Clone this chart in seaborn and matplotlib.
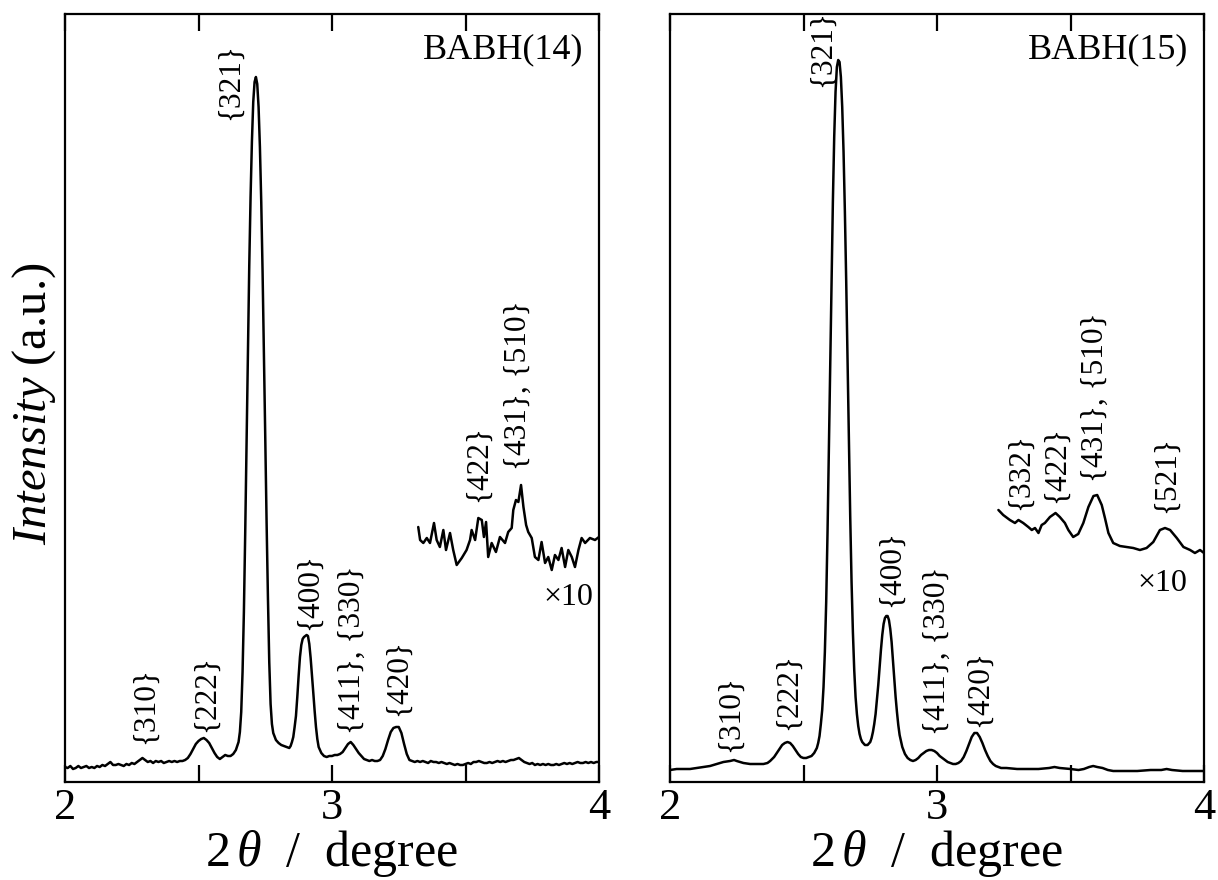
import numpy as np
import pandas as pd
import matplotlib
matplotlib.use("Agg")
import matplotlib.pyplot as plt
import seaborn as sns

# ---------------- data ----------------
# BABH(14) main pattern
tt14 = [2.000, 2.010, 2.020, 2.030, 2.040, 2.050, 2.060, 2.070, 2.080, 2.090,
        2.100, 2.110, 2.120, 2.130, 2.140, 2.150, 2.160, 2.170, 2.180, 2.190,
        2.200, 2.210, 2.220, 2.230, 2.240, 2.250, 2.260, 2.270, 2.280, 2.290,
        2.300, 2.310, 2.320, 2.330, 2.340, 2.350, 2.360, 2.370, 2.380, 2.390,
        2.400, 2.410, 2.420, 2.430, 2.440, 2.450, 2.460, 2.470, 2.480, 2.490,
        2.500, 2.510, 2.520, 2.530, 2.540, 2.550, 2.560, 2.570, 2.580, 2.590,
        2.600, 2.610, 2.620, 2.630, 2.640, 2.650, 2.655, 2.660, 2.665, 2.670,
        2.675, 2.680, 2.685, 2.690, 2.695, 2.700, 2.705, 2.710, 2.715, 2.720,
        2.725, 2.730, 2.735, 2.740, 2.745, 2.750, 2.755, 2.760, 2.765, 2.770,
        2.775, 2.780, 2.790, 2.800, 2.810, 2.820, 2.830, 2.840, 2.845, 2.850,
        2.855, 2.860, 2.865, 2.870, 2.875, 2.880, 2.885, 2.890, 2.895, 2.900,
        2.905, 2.910, 2.915, 2.920, 2.925, 2.930, 2.935, 2.940, 2.945, 2.950,
        2.960, 2.970, 2.980, 2.990, 3.000, 3.010, 3.020, 3.030, 3.040, 3.050,
        3.060, 3.070, 3.080, 3.090, 3.100, 3.110, 3.120, 3.130, 3.140, 3.150,
        3.160, 3.170, 3.180, 3.190, 3.200, 3.210, 3.220, 3.230, 3.240, 3.250,
        3.260, 3.270, 3.280, 3.290, 3.300, 3.310, 3.320, 3.330, 3.340, 3.350,
        3.360, 3.370, 3.380, 3.390, 3.400, 3.410, 3.420, 3.430, 3.440, 3.450,
        3.460, 3.470, 3.480, 3.490, 3.500, 3.510, 3.520, 3.530, 3.540, 3.550,
        3.560, 3.570, 3.580, 3.590, 3.600, 3.610, 3.620, 3.630, 3.640, 3.650,
        3.660, 3.670, 3.680, 3.690, 3.700, 3.710, 3.720, 3.730, 3.740, 3.750,
        3.760, 3.770, 3.780, 3.790, 3.800, 3.810, 3.820, 3.830, 3.840, 3.850,
        3.860, 3.870, 3.880, 3.890, 3.900, 3.910, 3.920, 3.930, 3.940, 3.950,
        3.960, 3.970, 3.980, 3.990, 4.000]
int14 = [15, 14, 16, 13, 14, 16, 14, 15, 16, 14,
         15, 14, 16, 15, 17, 16, 18, 20, 17, 17,
         18, 17, 16, 18, 17, 19, 18, 20, 22, 24,
         22, 20, 21, 19, 21, 20, 21, 19, 20, 21,
         20, 21, 20, 21, 21, 22, 24, 28, 33, 38,
         41, 43, 44, 42, 39, 34, 29, 25, 23, 25,
         27, 26, 26, 28, 32, 40, 50, 70, 110, 170,
         250, 340, 430, 515, 585, 640, 680, 700, 705, 698,
         675, 635, 580, 510, 430, 345, 260, 185, 120, 78,
         58, 49, 42, 39, 37, 36, 35, 34, 36, 40,
         45, 55, 66, 85, 106, 125, 137, 143, 145, 146,
         147, 146, 138, 124, 107, 89, 71, 55, 43, 35,
         29, 26, 25, 26, 26, 27, 27, 28, 30, 34,
         38, 40, 37, 33, 29, 26, 23, 22, 21, 22,
         21, 21, 22, 26, 33, 42, 50, 54, 55, 55,
         49, 38, 28, 22, 21, 20, 21, 20, 21, 20,
         19, 21, 20, 20, 19, 20, 19, 18, 19, 18,
         17, 18, 17, 17, 18, 19, 18, 20, 20, 21,
         20, 19, 19, 20, 19, 20, 21, 20, 21, 20,
         21, 22, 22, 23, 24, 22, 20, 19, 18, 19,
         17, 18, 17, 18, 17, 18, 17, 17, 18, 17,
         18, 19, 18, 19, 18, 19, 20, 19, 19, 20,
         19, 20, 19, 20, 20]

# BABH(14) x10 magnified part
tt14_x10 = [3.323, 3.330, 3.342, 3.355, 3.367, 3.382, 3.392, 3.404, 3.417, 3.427,
            3.442, 3.454, 3.467, 3.486, 3.504, 3.517, 3.523, 3.536, 3.548, 3.561,
            3.569, 3.577, 3.585, 3.598, 3.614, 3.629, 3.648, 3.660, 3.673, 3.679,
            3.689, 3.698, 3.708, 3.717, 3.727, 3.735, 3.748, 3.760, 3.773, 3.785,
            3.798, 3.810, 3.823, 3.835, 3.848, 3.860, 3.873, 3.885, 3.898, 3.910,
            3.923, 3.935, 3.948, 3.966, 3.985, 4.000]
int14_x10 = [255, 242, 239, 244, 239, 259, 242, 235, 252, 232,
             249, 232, 217, 224, 232, 242, 252, 242, 264, 262,
             245, 260, 225, 239, 230, 245, 239, 250, 254, 272,
             282, 280, 297, 275, 257, 250, 244, 225, 222, 240,
             219, 225, 212, 227, 222, 234, 215, 232, 225, 215,
             232, 244, 239, 244, 242, 245]

# BABH(15) main pattern
tt15 = [2.000, 2.025, 2.050, 2.075, 2.100, 2.125, 2.150, 2.175, 2.200, 2.225,
        2.240, 2.250, 2.275, 2.300, 2.325, 2.350, 2.365, 2.375, 2.390, 2.400,
        2.410, 2.420, 2.430, 2.440, 2.450, 2.460, 2.470, 2.480, 2.490, 2.500,
        2.510, 2.520, 2.530, 2.540, 2.550, 2.555, 2.560, 2.565, 2.570, 2.575,
        2.580, 2.585, 2.590, 2.595, 2.600, 2.605, 2.610, 2.615, 2.620, 2.625,
        2.630, 2.635, 2.640, 2.645, 2.650, 2.655, 2.660, 2.665, 2.670, 2.675,
        2.680, 2.685, 2.690, 2.695, 2.700, 2.705, 2.710, 2.715, 2.720, 2.730,
        2.740, 2.750, 2.755, 2.760, 2.765, 2.770, 2.775, 2.780, 2.785, 2.790,
        2.795, 2.800, 2.805, 2.810, 2.815, 2.820, 2.825, 2.830, 2.835, 2.840,
        2.845, 2.850, 2.855, 2.860, 2.870, 2.880, 2.890, 2.900, 2.910, 2.920,
        2.930, 2.940, 2.950, 2.960, 2.970, 2.980, 2.990, 3.000, 3.010, 3.020,
        3.030, 3.040, 3.050, 3.060, 3.070, 3.080, 3.090, 3.100, 3.110, 3.120,
        3.130, 3.140, 3.150, 3.160, 3.170, 3.180, 3.190, 3.200, 3.210, 3.220,
        3.240, 3.260, 3.300, 3.340, 3.380, 3.420, 3.440, 3.460, 3.500, 3.530,
        3.550, 3.570, 3.585, 3.600, 3.620, 3.640, 3.660, 3.700, 3.750, 3.800,
        3.840, 3.860, 3.880, 3.920, 3.960, 4.000]
int15 = [12, 13, 13, 13, 14, 15, 16, 18, 20, 21,
         22, 21, 19, 18, 18, 18, 19, 21, 25, 29,
         33, 37, 39, 40, 39, 36, 32, 28, 25, 24,
         24, 25, 26, 29, 34, 39, 46, 58, 72, 95,
         130, 180, 250, 330, 415, 500, 580, 645, 690, 715,
         722, 720, 705, 675, 630, 570, 500, 420, 340, 265,
         200, 150, 112, 85, 68, 56, 48, 43, 40, 37,
         37, 40, 44, 50, 58, 68, 82, 97, 115, 132,
         147, 158, 164, 166, 166, 162, 153, 140, 122, 103,
         85, 70, 57, 47, 35, 28, 24, 22, 21, 22,
         24, 27, 29, 31, 32, 32, 31, 29, 26, 24,
         22, 20, 19, 18, 18, 19, 21, 25, 31, 38,
         45, 49, 49, 45, 39, 32, 26, 21, 18, 16,
         14, 14, 13, 13, 13, 14, 15, 14, 13, 12,
         13, 15, 16, 15, 14, 12, 11, 11, 11, 12,
         12, 13, 12, 11, 11, 11]

# BABH(15) x10 magnified part
tt15_x10 = [3.230, 3.248, 3.273, 3.292, 3.305, 3.323, 3.342, 3.355, 3.367, 3.380,
            3.392, 3.404, 3.423, 3.444, 3.460, 3.479, 3.492, 3.510, 3.529, 3.548,
            3.567, 3.586, 3.600, 3.617, 3.629, 3.642, 3.660, 3.685, 3.710, 3.735,
            3.760, 3.785, 3.810, 3.835, 3.854, 3.873, 3.898, 3.923, 3.948, 3.966,
            3.985, 4.000]
int15_x10 = [272, 267, 262, 259, 262, 259, 255, 252, 254, 249,
             257, 259, 265, 269, 265, 259, 252, 245, 248, 259,
             275, 286, 287, 277, 264, 249, 239, 236, 235, 234,
             232, 234, 240, 252, 254, 252, 244, 235, 232, 229,
             232, 229]

# peak labels
labels14 = ["{310}", "{222}", "{321}", "{400}", "{411}, {330}", "{420}",
            "{422}", "{431}, {510}"]
labels15 = ["{310}", "{222}", "{321}", "{400}", "{411}, {330}", "{420}",
            "{332}", "{422}", "{431}, {510}", "{521}"]
sample_names = ["BABH(14)", "BABH(15)"]
xticks = [2, 2.5, 3, 3.5, 4]
xticklabels = ["2", "", "3", "", "4"]

# ---------------- annotation anchors (layout) ----------------
lab14_x = [2.300, 2.528, 2.618, 2.914, 3.075, 3.250, 3.547, 3.697]
lab14_y = [38, 50, 662, 152, 48, 66, 280, 312]
lab15_x = [2.228, 2.445, 2.570, 2.830, 3.000, 3.160, 3.311, 3.449, 3.592, 3.861]
lab15_y = [30, 52, 695, 175, 47, 55, 272, 279, 300, 269]

# ---------------- style ----------------
sns.set_theme(style="ticks")
plt.rcParams["font.family"] = ["Liberation Serif", "DejaVu Serif"]
plt.rcParams["mathtext.fontset"] = "custom"
plt.rcParams["mathtext.rm"] = "Liberation Serif"
plt.rcParams["mathtext.it"] = "Liberation Serif:italic"
plt.rcParams["mathtext.bf"] = "Liberation Serif:bold"
plt.rcParams["axes.linewidth"] = 1.6

fig = plt.figure(figsize=(12.18, 8.8), dpi=100)
W, H = 1218, 880
ax1 = fig.add_axes([65 / W, 1 - 782 / H, 534 / W, 768 / H])
ax2 = fig.add_axes([670 / W, 1 - 782 / H, 534 / W, 768 / H])

panels = [
    (ax1, tt14, int14, tt14_x10, int14_x10, labels14, lab14_x, lab14_y, sample_names[0], (3.884, 185)),
    (ax2, tt15, int15, tt15_x10, int15_x10, labels15, lab15_x, lab15_y, sample_names[1], (3.843, 199)),
]

for i, (ax, tt, it, ttm, itm, labs, lx, ly, name, x10pos) in enumerate(panels):
    df = pd.DataFrame({"tt": tt, "I": it})
    dfm = pd.DataFrame({"tt": ttm, "I": itm})
    sns.lineplot(data=df, x="tt", y="I", ax=ax, color="black", linewidth=1.8,
                 estimator=None, sort=False)
    sns.lineplot(data=dfm, x="tt", y="I", ax=ax, color="black", linewidth=1.8,
                 estimator=None, sort=False)
    ax.set_xlim(2, 4)
    ax.set_ylim(0, 768)
    ax.set_yticks([])
    ax.set_xticks(xticks)
    ax.set_xticklabels(xticklabels)
    ax.tick_params(axis="x", direction="in", top=True, bottom=True,
                   length=12, width=1.6, labelsize=32, pad=4, colors="black")
    for s in ax.spines.values():
        s.set_color("black")
    ax.set_xlabel(r"2$\,\theta$  /  degree", fontsize=36, color="black")
    ax.xaxis.set_label_coords(0.5, -0.060)
    if i == 0:
        ax.set_ylabel(r"$\mathit{Intensity}$ (a.u.)", fontsize=35, color="black")
        ax.yaxis.set_label_coords(-0.014, 0.493)
    else:
        ax.set_ylabel("")
    for t, x, y in zip(labs, lx, ly):
        ax.text(x, y, t, rotation=90, ha="center", va="bottom", fontsize=22.5,
                color="black")
    ax.text(3.94, 732, name, ha="right", va="center", fontsize=26, color="black")
    ax.text(x10pos[0], x10pos[1], "×10", ha="center", va="center", fontsize=23,
            color="black")

fig.savefig("out.png", dpi=100)
